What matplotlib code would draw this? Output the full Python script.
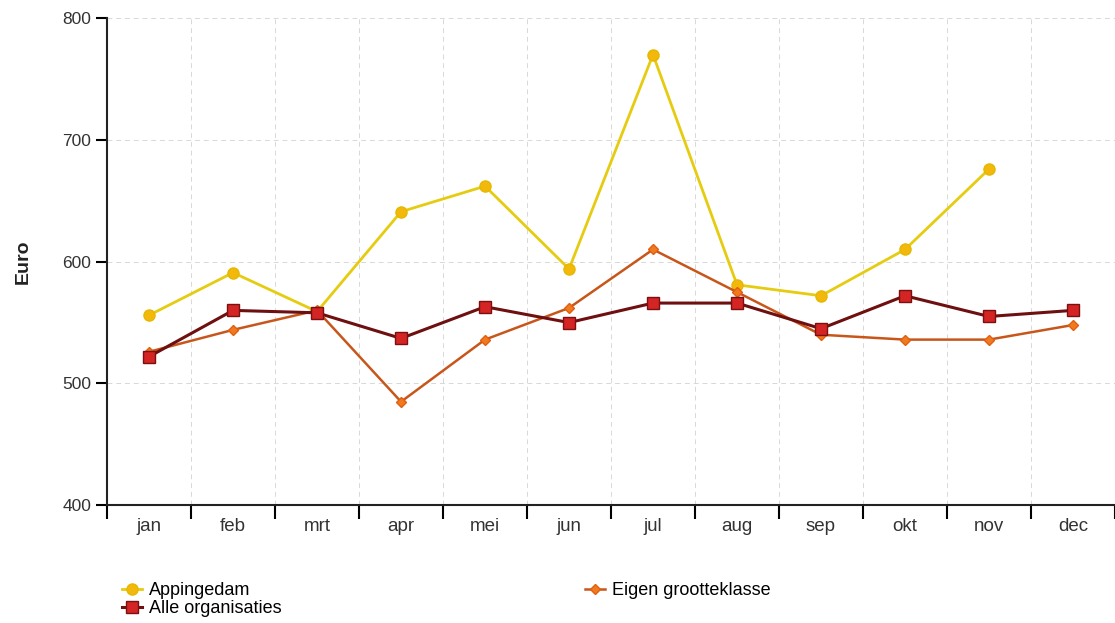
import numpy as np
import matplotlib
matplotlib.use("Agg")
import matplotlib.pyplot as plt

plt.rcParams["font.family"] = ["Liberation Sans", "DejaVu Sans"]

months = ["jan", "feb", "mrt", "apr", "mei", "jun", "jul", "aug", "sep", "okt", "nov", "dec"]
appingedam = [556, 591, 559, 641, 662, 594, 770, 581, 572, 610, 676, np.nan]
alle_org = [522, 560, 558, 537, 563, 550, 566, 566, 545, 572, 555, 560]
eigen_klasse = [526, 544, 560, 485, 536, 562, 610, 575, 540, 536, 536, 548]

fig = plt.figure(figsize=(11.15, 6.23), dpi=100)
ax = fig.add_axes([0.096, 0.189, 0.904, 0.782])

x = np.arange(len(months))
l1, = ax.plot(x, appingedam, "-o", color="#e6cc10", lw=2, ms=8,
              mfc="#f2b90c", mec="#e6b800", label="Appingedam", zorder=3)
l2, = ax.plot(x, alle_org, "-s", color="#6e0f10", lw=2.2, ms=9,
              mfc="#d42424", mec="#7a1010", label="Alle organisaties", zorder=4)
l3, = ax.plot(x, eigen_klasse, "-D", color="#c8561a", lw=1.8, ms=5,
              mfc="#f07a20", mec="#e06010", label="Eigen grootteklasse", zorder=3)

ax.set_xlim(-0.5, 11.5)
ax.set_ylim(400, 800)
ax.set_yticks([400, 500, 600, 700, 800])
ax.set_xticks(np.arange(-0.5, 12, 1))
ax.set_xticklabels([])
ax.set_xticks(x, minor=True)
ax.set_xticklabels(months, minor=True)
ax.tick_params(axis="x", which="major", length=10, width=1.5, direction="out")
ax.tick_params(axis="x", which="minor", length=0, pad=9, labelsize=13.5)
ax.tick_params(axis="y", length=8, width=1.5, labelsize=12.5)
ax.tick_params(axis="both", which="both", labelcolor="#333333")

ax.grid(True, which="major", color="#d8d8d8", ls=(0, (5, 4)), lw=0.7)
for s in ["top", "right"]:
    ax.spines[s].set_visible(False)
for s in ["left", "bottom"]:
    ax.spines[s].set_linewidth(1.5)
    ax.spines[s].set_color("#222222")

ax.set_ylabel("Euro", fontsize=14, fontweight="bold", labelpad=22, color="#222222")

fig.legend(handles=[l1, l2, l3], ncol=2, loc="upper left",
           bbox_to_anchor=(0.103, 0.077), frameon=False, fontsize=13,
           handlelength=1.1, handletextpad=0.4, columnspacing=16.8,
           labelspacing=0.05, borderaxespad=0)

fig.savefig("out.png", dpi=100)
